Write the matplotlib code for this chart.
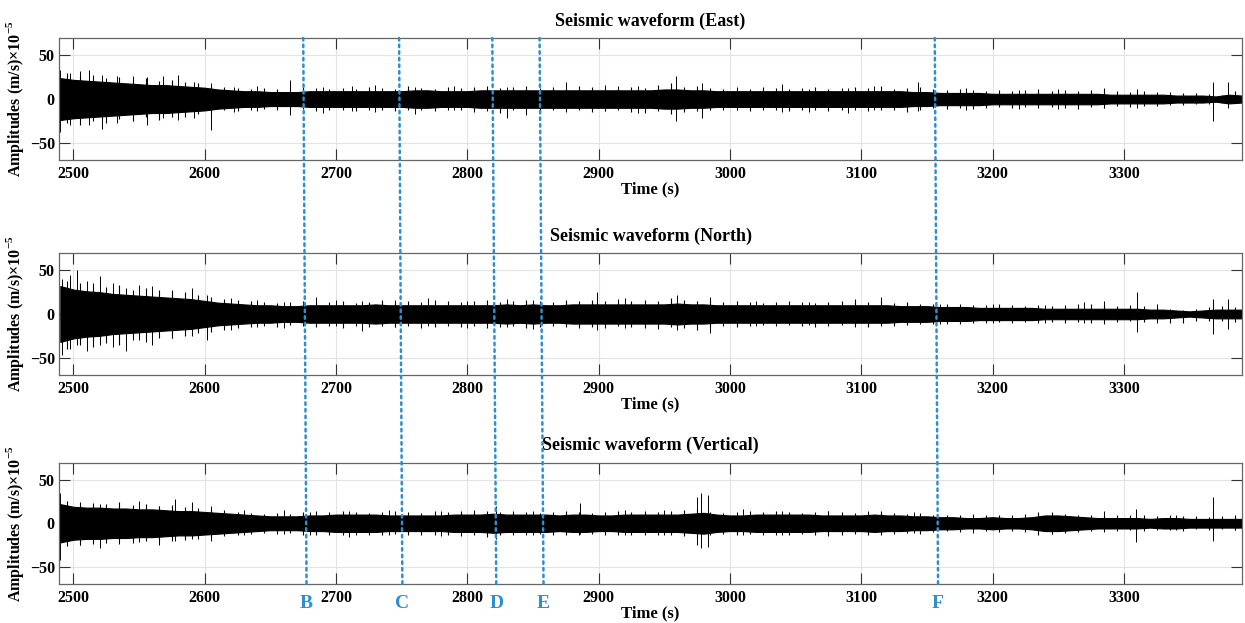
import numpy as np
import matplotlib.pyplot as plt
from matplotlib.patches import ConnectionPatch

plt.rcParams['font.family'] = 'Liberation Serif'
plt.rcParams['font.weight'] = 'bold'
plt.rcParams['mathtext.fontset'] = 'custom'
plt.rcParams['mathtext.rm'] = 'Liberation Serif:bold'
plt.rcParams['mathtext.bf'] = 'Liberation Serif:bold'

# envelope sample times (s), one every 10 s, and the in-between times for the outer wiggles
t_env = np.arange(2490, 3391, 10)
t_hair = np.arange(2495, 3390, 10)

# half-width of the dense part of each trace, x1e-5 m/s
east_core = [24, 22, 21, 20, 19, 18, 17, 16, 16, 15,
             14, 13, 11, 10, 9, 9, 8, 8, 8, 9,
             9, 9, 9, 9, 9, 9, 9, 10, 10, 9,
             9, 9, 10, 10, 10, 10, 10, 10, 10, 10,
             10, 10, 10, 10, 10, 10, 11, 11, 10, 10,
             9, 9, 9, 9, 9, 9, 9, 9, 9, 9,
             9, 9, 9, 9, 9, 8, 8, 7, 7, 7,
             7, 6, 6, 6, 6, 6, 6, 6, 6, 6,
             5, 5, 5, 5, 5, 4, 4, 4, 3, 5, 4]
north_core = [32, 28, 26, 25, 23, 22, 21, 20, 19, 18,
              17, 15, 13, 12, 11, 10, 10, 9, 9, 10,
              10, 10, 10, 10, 11, 10, 10, 10, 10, 10,
              10, 10, 10, 10, 11, 10, 11, 10, 10, 11,
              11, 11, 11, 11, 11, 11, 11, 12, 11, 11,
              10, 10, 10, 10, 10, 10, 10, 10, 10, 10,
              10, 10, 10, 10, 9, 9, 9, 8, 8, 8,
              7, 7, 7, 7, 7, 6, 6, 6, 6, 6,
              6, 6, 6, 5, 5, 4, 3, 4, 5, 5, 5]
vert_core = [22, 19, 18, 18, 17, 17, 16, 16, 15, 14,
             14, 13, 12, 11, 10, 9, 8, 8, 8, 9,
             9, 10, 10, 10, 10, 9, 9, 9, 9, 9,
             10, 10, 10, 11, 10, 10, 10, 10, 9, 10,
             10, 9, 9, 10, 10, 10, 10, 10, 11, 12,
             10, 9, 9, 10, 10, 10, 10, 10, 9, 9,
             9, 9, 10, 9, 9, 8, 8, 7, 7, 6,
             6, 7, 6, 6, 7, 9, 9, 8, 7, 6,
             6, 6, 6, 5, 6, 6, 5, 5, 5, 5, 5]

# outer wiggles between the envelope samples (max / min)
east_hair_hi = [30, 27, 28, 24, 25, 22, 24, 21, 22, 19,
                18, 15, 14, 13, 12, 13, 11, 12, 14, 13,
                12, 13, 12, 14, 13, 12, 15, 13, 12, 14,
                13, 14, 15, 13, 14, 15, 13, 14, 13, 15,
                14, 13, 15, 14, 13, 16, 18, 14, 15, 13,
                12, 13, 12, 14, 13, 12, 13, 14, 12, 13,
                14, 13, 15, 12, 13, 14, 11, 10, 11, 10,
                9, 10, 9, 10, 11, 9, 10, 9, 10, 11,
                9, 8, 9, 8, 8, 7, 7, 6, 5, 9]
east_hair_lo = [-28, -30, -25, -27, -23, -25, -21, -24, -20, -21,
                -17, -16, -13, -14, -12, -11, -13, -12, -11, -14,
                -13, -12, -14, -12, -13, -14, -12, -13, -14, -12,
                -13, -15, -14, -16, -13, -14, -15, -13, -14, -13,
                -15, -14, -13, -15, -16, -14, -17, -15, -14, -13,
                -13, -12, -14, -12, -13, -14, -12, -13, -14, -12,
                -13, -14, -12, -13, -15, -12, -10, -11, -10, -11,
                -10, -9, -10, -9, -10, -9, -10, -11, -9, -10,
                -8, -9, -8, -8, -7, -7, -6, -6, -5, -5]
north_hair_hi = [38, 35, 36, 31, 33, 28, 30, 27, 26, 25,
                 22, 20, 17, 16, 15, 14, 13, 14, 15, 14,
                 14, 15, 13, 14, 16, 14, 15, 14, 16, 15,
                 14, 15, 16, 14, 15, 16, 15, 14, 16, 15,
                 16, 15, 17, 15, 16, 15, 18, 16, 15, 16,
                 14, 15, 14, 13, 14, 15, 14, 13, 14, 15,
                 16, 14, 15, 13, 14, 12, 11, 12, 11, 10,
                 10, 11, 10, 9, 10, 9, 10, 11, 12, 10,
                 9, 10, 9, 8, 6, 5, 6, 8, 9, 8]
north_hair_lo = [-40, -36, -38, -33, -35, -30, -32, -28, -27, -25,
                 -22, -21, -18, -16, -15, -14, -15, -13, -14, -15,
                 -14, -16, -14, -15, -14, -15, -14, -16, -15, -14,
                 -15, -14, -16, -15, -14, -16, -15, -14, -15, -16,
                 -15, -16, -14, -15, -16, -17, -15, -16, -18, -15,
                 -14, -15, -14, -13, -14, -13, -14, -15, -14, -13,
                 -14, -15, -13, -14, -13, -12, -11, -12, -11, -10,
                 -10, -9, -10, -9, -10, -9, -10, -9, -10, -9,
                 -9, -8, -9, -8, -10, -10, -8, -8, -8, -9]
vert_hair_hi = [26, 24, 23, 22, 24, 21, 22, 20, 21, 19,
                18, 16, 15, 13, 12, 11, 12, 11, 13, 14,
                13, 14, 13, 12, 13, 14, 13, 12, 14, 13,
                14, 15, 14, 13, 14, 13, 12, 13, 14, 13,
                12, 13, 14, 13, 14, 13, 14, 15, 16, 13,
                12, 13, 14, 13, 14, 13, 12, 13, 14, 13,
                12, 13, 14, 12, 11, 12, 10, 9, 10, 9,
                10, 9, 10, 11, 13, 12, 11, 10, 9, 10,
                9, 10, 9, 8, 9, 8, 8, 7, 8, 8]
vert_hair_lo = [-26, -25, -24, -23, -22, -23, -21, -22, -20, -19,
                -18, -16, -15, -13, -12, -11, -12, -11, -13, -14,
                -13, -14, -13, -14, -13, -12, -13, -14, -13, -14,
                -15, -14, -16, -13, -14, -13, -12, -13, -14, -13,
                -12, -13, -14, -13, -14, -13, -14, -15, -16, -13,
                -12, -13, -12, -13, -14, -13, -12, -13, -14, -13,
                -12, -13, -14, -12, -11, -12, -10, -9, -10, -9,
                -9, -10, -9, -10, -13, -12, -11, -10, -9, -9,
                -9, -8, -9, -8, -8, -9, -7, -8, -7, -8]

# isolated peaks: time, positive and negative excursion
east_spk_t = [2490, 2497, 2505, 2512, 2522, 2533, 2545, 2556, 2568, 2580,
              2592, 2605, 2622, 2640, 2665, 2690, 2712, 2730, 2760, 2790,
              2830, 2845, 2875, 2905, 2930, 2959, 2979, 3005, 3040, 3060,
              3090, 3110, 3143, 3180, 3220, 3250, 3285, 3310, 3368, 3379]
east_spk_hi = [33, 30, 32, 33, 28, 26, 27, 25, 27, 28,
               20, 18, 14, 15, 22, 14, 15, 16, 14, 15,
               14, 13, 20, 16, 15, 26, 18, 14, 17, 12,
               13, 15, 20, 13, 10, 12, 13, 12, 20, 19]
east_spk_lo = [-38, -30, -28, -30, -34, -28, -25, -30, -22, -24,
               -22, -35, -15, -14, -18, -16, -14, -15, -17, -13,
               -22, -18, -15, -14, -16, -25, -22, -13, -15, -15,
               -16, -12, -14, -12, -11, -11, -10, -10, -25, -10]

north_spk_t = [2491, 2497, 2503, 2510, 2520, 2530, 2540, 2550, 2560, 2575,
               2590, 2602, 2620, 2640, 2660, 2685, 2700, 2720, 2745, 2770,
               2800, 2830, 2850, 2899, 2920, 2960, 2985, 3020, 3060, 3095,
               3115, 3160, 3200, 3240, 3270, 3285, 3310, 3325, 3368, 3379]
north_spk_hi = [40, 45, 50, 38, 43, 35, 30, 33, 32, 28,
                30, 22, 18, 16, 14, 20, 16, 15, 16, 18,
                15, 17, 16, 25, 18, 22, 20, 15, 14, 17,
                20, 12, 12, 10, 14, 15, 25, 12, 17, 17]
north_spk_lo = [-47, -40, -35, -42, -35, -38, -42, -30, -35, -28,
                -25, -30, -18, -15, -16, -12, -14, -20, -15, -14,
                -16, -15, -17, -18, -16, -18, -22, -14, -13, -15,
                -14, -12, -10, -10, -10, -12, -21, -10, -23, -17]

vert_spk_t = [2490, 2495, 2505, 2520, 2535, 2550, 2565, 2577, 2590, 2605,
              2630, 2660, 2680, 2710, 2740, 2780, 2822, 2850, 2886, 2920,
              2950, 2975, 2978, 2983, 3010, 3040, 3075, 3105, 3140, 3185,
              3245, 3285, 3309, 3340, 3368, 3385]
vert_spk_hi = [35, 25, 23, 22, 22, 26, 20, 28, 25, 20,
               15, 15, 13, 14, 15, 14, 20, 14, 23, 15,
               15, 30, 35, 33, 17, 14, 14, 14, 13, 11,
               13, 14, 17, 10, 30, 10]
vert_spk_lo = [-42, -25, -25, -28, -24, -22, -25, -20, -18, -20,
               -14, -12, -14, -16, -14, -15, -18, -14, -12, -13,
               -14, -25, -28, -27, -13, -14, -15, -12, -11, -11,
               -12, -10, -22, -8, -20, -8]

titles = ['Seismic waveform (East)', 'Seismic waveform (North)', 'Seismic waveform (Vertical)']
cores = [east_core, north_core, vert_core]
hairs = [(east_hair_hi, east_hair_lo), (north_hair_hi, north_hair_lo),
         (vert_hair_hi, vert_hair_lo)]
spikes = [(east_spk_t, east_spk_hi, east_spk_lo),
          (north_spk_t, north_spk_hi, north_spk_lo),
          (vert_spk_t, vert_spk_hi, vert_spk_lo)]

# picked phases: labels and times at top / bottom of the marker lines
pick_labels = ['B', 'C', 'D', 'E', 'F']
pick_top = [2675, 2748, 2819, 2855, 3156]
pick_bottom = [2677.5, 2750.5, 2822, 2858, 3158.5]

fig = plt.figure(figsize=(12.45, 6.23), dpi=100)
rects = [[0.0474, 0.743, 0.9502, 0.196],
         [0.0474, 0.398, 0.9502, 0.196],
         [0.0474, 0.0626, 0.9502, 0.195]]
axes = []
for rect, title, core, (hh, hl), (st, sh, sl) in zip(rects, titles, cores, hairs, spikes):
    ax = fig.add_axes(rect)
    core = np.array(core, dtype=float)
    ax.fill_between(t_env, -core, core, color='black', lw=0.8)
    ax.vlines(t_hair, hl, hh, color='black', lw=0.8)
    ax.vlines(st, sl, sh, color='black', lw=0.7)
    ax.set_xlim(2489, 3390)
    ax.set_ylim(-70, 70)
    ax.set_xticks(range(2500, 3301, 100))
    ax.set_yticks([-50, 0, 50])
    ax.grid(True, color='#e3e3e3', lw=0.8)
    ax.set_axisbelow(True)
    ax.tick_params(direction='in', length=8, width=0.8, top=True, right=True,
                   labelsize=11.5, color='#333333', pad=4)
    ax.tick_params(axis='y', pad=3)
    for lab in ax.get_xticklabels() + ax.get_yticklabels():
        lab.set_fontweight('bold')
    for sp in ax.spines.values():
        sp.set_color('#666666')
        sp.set_linewidth(0.9)
    ax.set_title(title, fontsize=13, fontweight='bold', pad=9)
    ax.set_xlabel('Time (s)', fontsize=12, fontweight='bold', labelpad=0)
    ax.set_ylabel(r'Amplitudes (m/s)×10$^{-5}$', fontsize=11.5, fontweight='bold')
    ax.yaxis.set_label_coords(-0.0275, 0.5)
    axes.append(ax)

blue = '#2b8fd2'
for lab, t0, t1 in zip(pick_labels, pick_top, pick_bottom):
    con = ConnectionPatch(xyA=(t0, 70), coordsA=axes[0].transData,
                          xyB=(t1, -70), coordsB=axes[2].transData,
                          color=blue, lw=1.8, linestyle=':')
    fig.add_artist(con)
    axes[2].annotate(lab, xy=(t1, -70), xytext=(0, -8), textcoords='offset points',
                     ha='center', va='top', color=blue, fontsize=14,
                     fontweight='bold', annotation_clip=False)

fig.savefig('out.png', dpi=100)
